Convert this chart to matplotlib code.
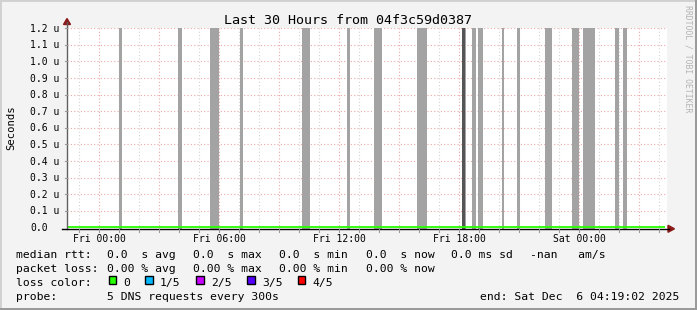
import matplotlib
matplotlib.use("Agg")
import matplotlib.pyplot as plt
from matplotlib.patches import Rectangle, Polygon

# ---------------- data ----------------
# hours relative to Fri 00:00
x_start, x_end = -1.6, 28.4
y_ticks = [0.0, 0.1, 0.2, 0.3, 0.4, 0.5, 0.6, 0.7, 0.8, 0.9, 1.0, 1.1, 1.2]
y_tick_labels = ["0.0", "0.1 u", "0.2 u", "0.3 u", "0.4 u", "0.5 u", "0.6 u",
                 "0.7 u", "0.8 u", "0.9 u", "1.0 u", "1.1 u", "1.2 u"]
x_label_pos = [0, 6, 12, 18, 24]
x_labels = ["Fri 00:00", "Fri 06:00", "Fri 12:00", "Fri 18:00", "Sat 00:00"]
minor_hours = list(range(-1, 29))
major_hours = [0, 3, 6, 9, 12, 15, 18, 21, 24, 27]

# unknown / loss periods (start hour, end hour)
gap_starts = [1.00, 3.93, 5.53, 7.03, 10.17, 12.38, 13.77, 15.88, 18.13, 18.63,
              18.93, 20.13, 20.90, 22.28, 23.63, 24.18, 25.78, 26.18]
gap_ends = [1.17, 4.17, 6.00, 7.18, 10.53, 12.53, 14.17, 16.38, 18.37, 18.87,
            19.18, 20.27, 21.07, 22.63, 24.00, 24.78, 26.02, 26.38]
dark_starts = [18.13]
dark_ends = [18.30]

median_x = [x_start, 28.32]
median_y = [0.0, 0.0]

loss_labels = ["0", "1/5", "2/5", "3/5", "4/5"]
loss_colors = ["#26ff00", "#00b8ff", "#c800ff", "#5500ff", "#ff0000"]

title = "Last 30 Hours from 04f3c59d0387"

# ---------------- figure ----------------
W, H = 697, 310
fig = plt.figure(figsize=(W / 100, H / 100), dpi=100)
fig.patch.set_facecolor("#f3f3f3")
MONO = "DejaVu Sans Mono"

def fx(px):
    return px / W

def fy(py):
    return 1 - py / H

# frame shading
fig.patches.append(Rectangle((0, 0), 1, 1, transform=fig.transFigure,
                             fill=False, edgecolor="#d0d0d0", lw=2))
fig.patches.append(Rectangle((fx(694.5), 0), fx(2.5), 1, transform=fig.transFigure,
                             facecolor="#9a9a9a", edgecolor="none"))
fig.patches.append(Rectangle((0, 0), 1, 2.5 / H, transform=fig.transFigure,
                             facecolor="#9a9a9a", edgecolor="none"))

ax_l, ax_r, ax_t, ax_b = 67, 667, 28.3, 228.6
ax = fig.add_axes([fx(ax_l), fy(ax_b), fx(ax_r - ax_l), (ax_b - ax_t) / H])
ax.set_facecolor("white")
ax.set_xlim(x_start, x_end)
ax.set_ylim(-0.008, 1.2)

# grid
for h in minor_hours:
    if h not in major_hours:
        ax.axvline(h, color="#d4d4d4", lw=0.8, ls=(0, (1, 2)), zorder=1)
for h in major_hours:
    ax.axvline(h, color="#eba8a8", lw=0.8, ls=(0, (1, 2)), zorder=1)
for yv in y_ticks[1:]:
    ax.axhline(yv, color="#eba8a8", lw=0.8, ls=(0, (1, 2)), zorder=1)

# gap bars
for s, e in zip(gap_starts, gap_ends):
    ax.axvspan(s, e, color="#a3a3a3", lw=0, zorder=2)
for s, e in zip(dark_starts, dark_ends):
    ax.axvspan(s, e, color="#555555", lw=0, zorder=3)

# median line
ax.plot(median_x, median_y, color="#26ff00", lw=1.3, zorder=4, solid_capstyle="butt")

for sp in ax.spines.values():
    sp.set_visible(False)
ax.set_xticks([])
ax.set_yticks([])

# axes lines drawn in figure coords
fig.add_artist(plt.Line2D([fx(67), fx(67)], [fy(229), fy(22)], color="#606060", lw=1))
fig.add_artist(plt.Line2D([fx(62), fx(669)], [fy(228.8), fy(228.8)], color="black", lw=1))
fig.add_artist(Polygon([[fx(63.5), fy(24.5)], [fx(70.5), fy(24.5)], [fx(67), fy(18.5)]],
                       closed=True, transform=fig.transFigure, color="#8b1a1a"))
fig.add_artist(Polygon([[fx(668), fy(225.3)], [fx(668), fy(232.3)], [fx(674.5), fy(228.8)]],
                       closed=True, transform=fig.transFigure, color="#8b1a1a"))

# ticks
def hour_px(h):
    return ax_l + (h - x_start) / (x_end - x_start) * (ax_r - ax_l)

def val_py(v):
    return ax_b - (v + 0.008) / 1.208 * (ax_b - ax_t)

for h in minor_hours:
    px = hour_px(h)
    fig.add_artist(plt.Line2D([fx(px), fx(px)], [fy(229.3), fy(231.5)], color="#999999", lw=0.8))
for yv in y_ticks[1:]:
    py = val_py(yv)
    fig.add_artist(plt.Line2D([fx(64.5), fx(67)], [fy(py), fy(py)], color="#999999", lw=0.8))

# tick labels
for yv, lab in zip(y_ticks, y_tick_labels):
    fig.text(fx(30), fy(val_py(yv) + 3.6), lab, family=MONO, fontsize=7.0,
             ha="left", va="baseline", color="black")
for h, lab in zip(x_label_pos, x_labels):
    fig.text(fx(hour_px(h)), fy(241.5), lab, family=MONO, fontsize=7.0,
             ha="center", va="baseline", color="black")

# title, axis label, watermark
fig.text(fx(348), fy(24), title, family=MONO, fontsize=9.6, ha="center", va="baseline")
fig.text(fx(11), fy(127.5), "Seconds", family=MONO, fontsize=7.6, rotation=90,
         ha="center", va="center")
fig.text(fx(688), fy(5), "RRDTOOL / TOBI OETIKER", family=MONO, fontsize=5.9,
         rotation=-90, ha="center", va="top", color="#b4b4b4")

# legend
LF = 8.2
def lt(px, py, s, **kw):
    fig.text(fx(px), fy(py), s, family=MONO, fontsize=LF, ha="left", va="baseline", **kw)

lt(16, 258, "median rtt:")
lt(107, 258, "0.0  s avg")
lt(193, 258, "0.0  s max")
lt(279, 258, "0.0  s min")
lt(366, 258, "0.0  s now")
lt(451, 258, "0.0 ms sd")
lt(529.5, 258, "-nan   am/s")

lt(16, 272, "packet loss:")
lt(107, 272, "0.00 % avg")
lt(193, 272, "0.00 % max")
lt(279, 272, "0.00 % min")
lt(366, 272, "0.00 % now")

lt(16, 286, "loss color:")
box_x = [108.5, 145.3, 196.2, 247.0, 297.8]
text_x = [123, 160, 211, 262, 312.5]
for bx, tx, lab, col in zip(box_x, text_x, loss_labels, loss_colors):
    fig.patches.append(Rectangle((fx(bx), fy(284)), fx(7.5), 8 / H, transform=fig.transFigure,
                                 facecolor=col, edgecolor="black", lw=1.0))
    lt(tx, 286, lab)

lt(16, 300, "probe:")
lt(107, 300, "5 DNS requests every 300s")
fig.text(fx(679.5), fy(300), "end: Sat Dec  6 04:19:02 2025", family=MONO, fontsize=LF,
         ha="right", va="baseline")

fig.savefig("out.png", dpi=100, facecolor=fig.get_facecolor())
